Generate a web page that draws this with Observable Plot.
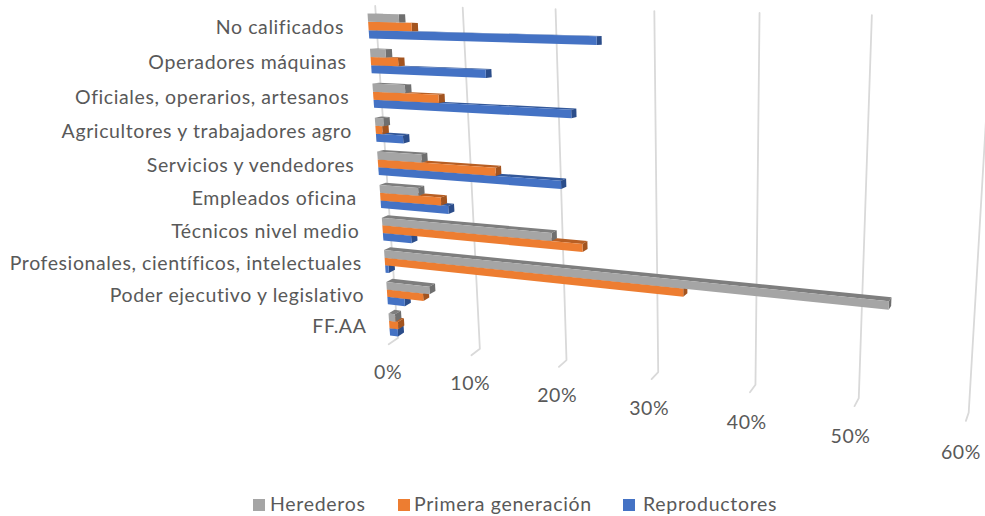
<!DOCTYPE html>
<html><head><meta charset="utf-8">
<script src="https://cdn.jsdelivr.net/npm/d3@7"></script>
<script src="https://cdn.jsdelivr.net/npm/@observablehq/plot@0.6"></script>
<style>
html,body{margin:0;padding:0;background:#fff}
#legend{position:relative;height:26px;font:19.5px Lato,sans-serif;color:#595959;letter-spacing:.7px}
#legend span{position:absolute;top:2px;white-space:nowrap}
#legend i{position:absolute;top:9px;width:12px;height:12px}
#chart text{letter-spacing:.6px}
</style></head><body>
<div id="chart"></div><div id="legend"></div>
<script>
const categories = ["No calificados","Operadores máquinas","Oficiales, operarios, artesanos","Agricultores y trabajadores agro","Servicios y vendedores","Empleados oficina","Técnicos nivel medio","Profesionales, científicos, intelectuales","Poder ejecutivo y legislativo","FF.AA"];
const herederos     = [3.6,1.8,3.8,1.0,5.2,4.6,19.5,52.7,5.2,0.8];
const primera       = [5.0,3.2,7.6,0.8,13.6,7.2,22.8,33.2,4.4,1.1];
const reproductores = [24.8,13.0,22.0,3.2,20.7,8.0,3.4,0.4,2.1,1.0];
const seriesNames = ["Herederos","Primera generación","Reproductores"];
const seriesColors = ["#A5A5A5","#ED7D31","#4472C4"];
const sideColors = ["#6f6f6f","#a3541f","#2b4d8a"];
const topColors = ["#7e7e7e","#b85f24","#33589a"];
const ticks = [0,10,20,30,40,50,60];

// Perspective of the spreadsheet's 3D chart: plane (value, row) -> screen.
const corners = [[367,13],[989,26],[968,384],[388,313]];
const VMAX = 60, RMAX = 9;
const [[x0,y0],[x1,y1],[x2,y2],[x3,y3]] = corners;
const dx1=x1-x2,dx2=x3-x2,sx=x0-x1+x2-x3,dy1=y1-y2,dy2=y3-y2,sy=y0-y1+y2-y3;
const den=dx1*dy2-dx2*dy1;
const g=(sx*dy2-dx2*sy)/den,h=(dx1*sy-sx*dy1)/den;
const a=x1-x0+g*x1,b=x3-x0+h*x3,d=y1-y0+g*y1,e=y3-y0+h*y3;
const perspective = d3.geoTransform({point(v,r){
  const u=v/VMAX,w=r/RMAX,q=g*u+h*w+1;
  this.stream.point((a*u+b*w+x0)/q,(d*u+e*w+y0)/q);
}});
// move a point "into the page" by k depth units
const deep=(v,r,k)=>[v+k*(0.6-v/120), r-k*0.012*r];
const poly=pts=>({type:"Polygon",coordinates:[[...pts,pts[0]]]});
const T=0.235, K=1.3;
const values=[herederos,primera,reproductores];
const barMarks=[2,1,0].flatMap(s=>{
  const rows=categories.map((c,i)=>({v:values[s][i],r:i+s*T}));
  const opt=(geom,fill)=>Plot.geo(rows,{geometry:geom,fill});
  return [
    opt(o=>poly([[0,o.r],[o.v,o.r],deep(o.v,o.r,K),deep(0,o.r,K)]),topColors[s]),
    opt(o=>poly([[o.v,o.r],[o.v,o.r+T],deep(o.v,o.r+T,K),deep(o.v,o.r,K)]),sideColors[s]),
    opt(o=>poly([[0,o.r],[o.v,o.r],[o.v,o.r+T],[0,o.r+T]]),seriesColors[s])
  ];
});
const grid=Plot.geo(ticks,{
  geometry:t=>({type:"LineString",coordinates:[deep(t,-0.22,1.6),deep(t,9.95,1.6),deep(t,9.95,-0.4)]}),
  stroke:"#d9d9d9",strokeWidth:1.8
});
const chart=Plot.plot({
  width:985,height:490,margin:0,
  projection:perspective,
  style:{background:"#fff",fontFamily:"Lato,sans-serif"},
  marks:[
    grid,
    ...barMarks,
    Plot.text(categories,{x:-2.9,y:(c,i)=>i+0.42+i*0.012,text:c=>c,textAnchor:"end",fontSize:19.5,fill:"#595959"}),
    Plot.text(ticks,{x:t=>t,y:10.65,dx:-4,dy:8,text:t=>t+"%",fontSize:19.5,fill:"#595959"})
  ]
});
document.getElementById("chart").appendChild(chart);
const lg=document.getElementById("legend");
[[253,270],[398,414],[623,643]].forEach(([sw,tx],i)=>{
  lg.insertAdjacentHTML("beforeend",`<i style="left:${sw}px;background:${seriesColors[i]}"></i><span style="left:${tx}px">${seriesNames[i]}</span>`);
});
</script></body></html>
